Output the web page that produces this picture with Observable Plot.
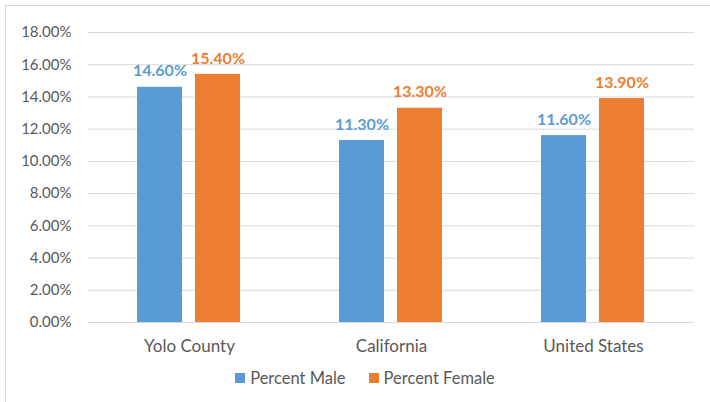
<!DOCTYPE html>
<html>
<head>
<meta charset="utf-8">
<script src="https://cdn.jsdelivr.net/npm/d3@7"></script>
<script src="https://cdn.jsdelivr.net/npm/@observablehq/plot@0.6"></script>
<style>
  html, body { margin: 0; padding: 0; background: #fff; }
  #frame { position: absolute; left: 5px; top: 5px; width: 720px; height: 420px; border: 1px solid #d9d9d9; box-sizing: border-box; }
  #chart { position: absolute; left: 0; top: 0; }
  #legend { position: absolute; left: 10px; top: 368px; width: 710px; display: flex; justify-content: center; gap: 23px; font-family: Lato, sans-serif; font-size: 16.5px; color: #595959; }
  #legend .item { display: flex; align-items: center; }
  #legend .sw { width: 10px; height: 10px; margin-right: 5px; display: inline-block; }
</style>
</head>
<body>
<div id="frame"></div>
<div id="chart"></div>
<div id="legend"></div>
<script>
const categories = ["Yolo County", "California", "United States"];
const series = ["Percent Male", "Percent Female"];
const maleValues = [0.146, 0.113, 0.116];
const femaleValues = [0.154, 0.133, 0.139];
const colors = ["#5b9bd5", "#ed7d31"];
const yTicks = [0, 0.02, 0.04, 0.06, 0.08, 0.10, 0.12, 0.14, 0.16, 0.18];

const rows = [];
categories.forEach((c, i) => {
  rows.push({category: c, series: series[0], value: maleValues[i]});
  rows.push({category: c, series: series[1], value: femaleValues[i]});
});

const plot = Plot.plot({
  width: 710,
  height: 360,
  marginLeft: 87,
  marginRight: 16,
  marginTop: 32,
  marginBottom: 38,
  style: {fontFamily: "Lato, sans-serif", color: "#595959", background: "transparent"},
  fx: {domain: categories, paddingInner: 0, paddingOuter: 0, label: null},
  x: {domain: series, paddingInner: 0.224, paddingOuter: 0.853, axis: null},
  y: {domain: [0, 0.18], label: null},
  color: {domain: series, range: colors},
  marks: [
    Plot.gridY(yTicks, {stroke: "#d9d9d9", strokeOpacity: 1, strokeWidth: 1}),
    Plot.axisY(yTicks, {tickSize: 0, tickPadding: 17, tickFormat: d3.format(".2%"), fontSize: 15, fill: "#595959", label: null}),
    Plot.axisFx({anchor: "bottom", tickSize: 0, tickPadding: 17, fontSize: 17, fill: "#595959", label: null}),
    Plot.barY(rows, {fx: "category", x: "series", y: "value", fill: "series"}),
    Plot.text(rows, {fx: "category", x: "series", y: "value", text: d => d3.format(".2%")(d.value), fill: "series", dy: -16, fontSize: 16, fontWeight: "bold"})
  ]
});
document.getElementById("chart").appendChild(plot);

const legend = document.getElementById("legend");
series.forEach((s, i) => {
  const item = document.createElement("span");
  item.className = "item";
  const sw = document.createElement("span");
  sw.className = "sw";
  sw.style.background = colors[i];
  item.appendChild(sw);
  item.appendChild(document.createTextNode(s));
  legend.appendChild(item);
});
</script>
</body>
</html>
